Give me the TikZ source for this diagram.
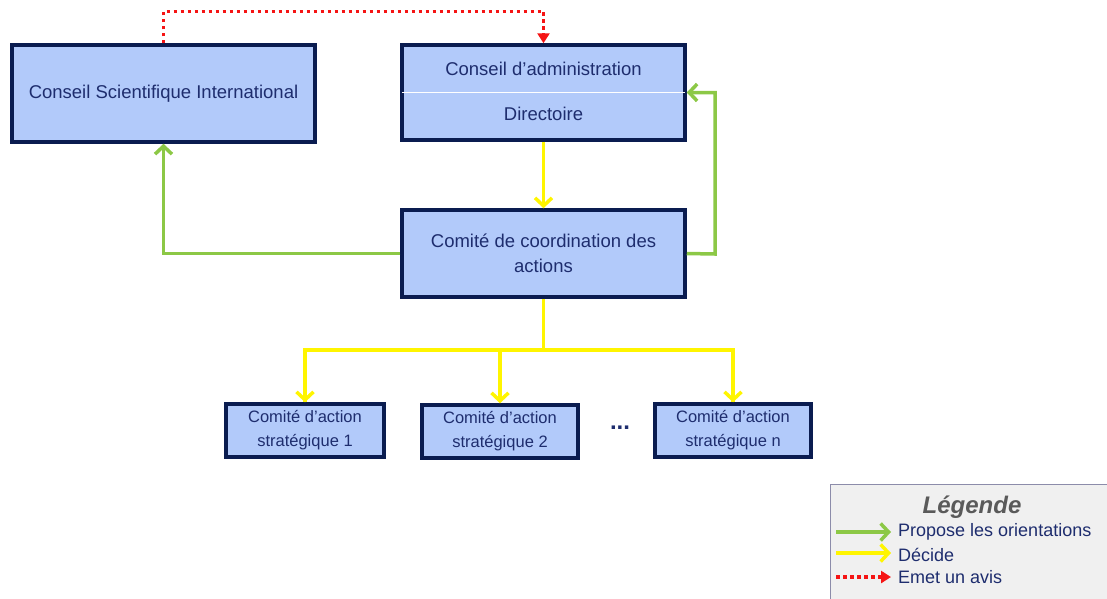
\documentclass[tikz,border=0pt]{standalone}
\usepackage{fontspec}
\setmainfont{Liberation Sans}
\usetikzlibrary{arrows.meta}
\definecolor{boxfill}{RGB}{178,202,250}
\definecolor{boxdraw}{RGB}{10,28,80}
\definecolor{txt}{RGB}{30,45,110}
\definecolor{grn}{RGB}{140,200,70}
\definecolor{yel}{RGB}{255,245,0}
\definecolor{redd}{RGB}{245,20,20}
\definecolor{legfill}{RGB}{240,240,240}
\definecolor{legdraw}{RGB}{140,140,170}
\definecolor{legtitle}{RGB}{90,90,90}
\begin{document}
\begin{tikzpicture}[x=1pt,y=-1pt,
  bigbox/.style={draw=boxdraw,line width=3.5pt,fill=boxfill,text=txt,align=center,
    font=\fontsize{18.5}{25}\selectfont,inner sep=0pt},
  smallbox/.style={draw=boxdraw,line width=3.5pt,fill=boxfill,text=txt,align=center,
    font=\fontsize{16.5}{24}\selectfont,inner sep=0pt,minimum width=156pt,minimum height=53pt},
  grnarrow/.style={draw=grn,line width=3.5pt,-{Straight Barb[length=8pt,width=17pt,line width=3.5pt]}},
  grnline/.style={draw=grn,line width=3.5pt},
  yelarrow/.style={draw=yel,line width=3.5pt,-{Straight Barb[length=8pt,width=17pt,line width=3.5pt]}},
  yelline/.style={draw=yel,line width=3.5pt},
  redarrow/.style={draw=redd,line width=3.5pt,dash pattern=on 3.5pt off 3.5pt,-{Triangle[length=10pt,width=12pt]}},
  legtext/.style={text=txt,font=\fontsize{18}{20}\selectfont,anchor=west,inner sep=0pt}
]
\useasboundingbox (0,0) rectangle (1107,598);

% main boxes
\node[bigbox,minimum width=303pt,minimum height=97pt] (csi) at (163.5,93.5) {Conseil Scientifique International};
\node[bigbox,minimum width=283pt,minimum height=95pt] (ca) at (543.5,92.5) {};
\draw[white,line width=1pt] ([xshift=1.75pt]ca.west) -- ([xshift=-1.75pt]ca.east);
\node[text=txt,font=\fontsize{18.5}{25}\selectfont] (catop) at (543.5,69) {Conseil d’administration};
\node[text=txt,font=\fontsize{18.5}{25}\selectfont] (cabot) at (543.5,114) {Directoire};
\node[bigbox,minimum width=283pt,minimum height=87pt] (cc) at (543.5,253.5) {Comité de coordination des\\actions};

% small boxes
\node[smallbox,minimum width=158pt] (s1) at (305,430.5) {Comité d’action\\stratégique 1};
\node[smallbox] (s2) at (500,431.5) {Comité d’action\\stratégique 2};
\node[smallbox] (sn) at (733,430.5) {Comité d’action\\stratégique n};
\node[text=txt,font=\fontsize{24}{24}\selectfont\bfseries] (dots) at (620,428) {...};

% red dotted arrow
\draw[redarrow] (csi.north) -- ++(0,-32) -| (ca.north);

% yellow arrows
\draw[yelarrow] (ca.south) -- (cc.north);
\coordinate (split) at (543.5,350);
\draw[yelline] (cc.south) -- (split);
\draw[yelline] (split) -| (s1.north);
\draw[yelline] (split) -| (sn.north);
\draw[yelarrow] (s1.north |- split) -- (s1.north);
\draw[yelarrow] (s2.north |- split) -- (s2.north);
\draw[yelarrow] (sn.north |- split) -- (sn.north);

% green arrows
\draw[grnarrow] (cc.west) -| (csi.south);
\coordinate (gr) at (715,254);
\draw[grnarrow] (cc.east) -- (gr) |- (ca.east);

% legend
\draw[legdraw,fill=legfill,line width=1pt] (830.5,484.5) rectangle (1112,603);
\node[text=legtitle,font=\fontsize{24}{26}\selectfont\bfseries\itshape] (lt) at (972,507) {Légende};
\coordinate (g1) at (836,532); \coordinate (g2) at (891,532);
\coordinate (y1) at (836,553); \coordinate (y2) at (891,553);
\coordinate (r1) at (836,577); \coordinate (r2) at (891,577);
\draw[grnarrow] (g1) -- (g2);
\draw[yelarrow] (y1) -- (y2);
\draw[redarrow] (r1) -- (r2);
\node[legtext] (l1) at (898,532) {Propose les orientations};
\node[legtext] (l2) at (898,555) {Décide};
\node[legtext] (l3) at (898,577) {Emet un avis};
\end{tikzpicture}
\end{document}
